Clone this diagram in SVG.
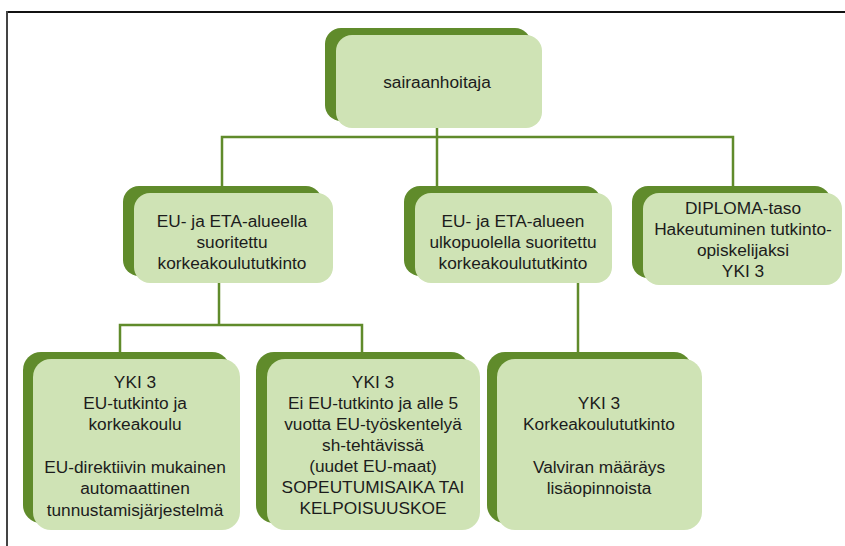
<svg xmlns="http://www.w3.org/2000/svg" width="845" height="546" viewBox="0 0 845 546">
  <style>
    .back { fill: #608b2b; }
    .front { fill: #cfe3b5; }
    .lbl { font-family: "Liberation Sans", Arial, sans-serif; font-size: 17.3px; fill: #1c1c1c; text-anchor: middle; }
    .wire { stroke: #608b2b; stroke-width: 2.5; fill: none; }
  </style>

  <rect width="845" height="546" fill="#ffffff"/>
  <!-- page frame -->
  <line x1="7" y1="12" x2="845" y2="12" stroke="#111" stroke-width="2"/>
  <line x1="7" y1="11" x2="7" y2="546" stroke="#444" stroke-width="2"/>

  <g id="connectors">
    <polyline class="wire" points="437,128 437,186"/>
    <polyline class="wire" points="222,186 222,137 733,137 733,186"/>
    <polyline class="wire" points="219,283 219,325"/>
    <polyline class="wire" points="120,352 120,325 362,325 362,352"/>
    <polyline class="wire" points="578,283 578,352"/>
  </g>

  <g id="root">
    <rect class="back" x="325" y="28" width="206" height="93" rx="16"/>
    <rect class="front" x="336" y="35" width="206" height="93" rx="16"/>
    <text class="lbl" x="437" y="88">sairaanhoitaja</text>
  </g>

  <g id="eu-eta">
    <rect class="back" x="123" y="186" width="199" height="90" rx="16"/>
    <rect class="front" x="134" y="193" width="199" height="90" rx="16"/>
    <text class="lbl" x="232" y="227">EU- ja ETA-alueella</text>
    <text class="lbl" x="232" y="248">suoritettu</text>
    <text class="lbl" x="232" y="269">korkeakoulututkinto</text>
  </g>

  <g id="outside-eu-eta">
    <rect class="back" x="404" y="186" width="197" height="90" rx="16"/>
    <rect class="front" x="415" y="193" width="197" height="90" rx="16"/>
    <text class="lbl" x="513" y="227">EU- ja ETA-alueen</text>
    <text class="lbl" x="513" y="248">ulkopuolella suoritettu</text>
    <text class="lbl" x="513" y="269">korkeakoulututkinto</text>
  </g>

  <g id="diploma">
    <rect class="back" x="632" y="186" width="199" height="92" rx="16"/>
    <rect class="front" x="643" y="193" width="199" height="92" rx="16"/>
    <text class="lbl" x="743" y="214">DIPLOMA-taso</text>
    <text class="lbl" x="743" y="235">Hakeutuminen tutkinto-</text>
    <text class="lbl" x="743" y="256">opiskelijaksi</text>
    <text class="lbl" x="743" y="277">YKI 3</text>
  </g>

  <g id="eu-degree">
    <rect class="back" x="23" y="352" width="207" height="171" rx="18"/>
    <rect class="front" x="33" y="359" width="207" height="171" rx="18"/>
    <text class="lbl" x="135" y="388">YKI 3</text>
    <text class="lbl" x="135" y="409">EU-tutkinto ja</text>
    <text class="lbl" x="135" y="430">korkeakoulu</text>
    <text class="lbl" x="135" y="473">EU-direktiivin mukainen</text>
    <text class="lbl" x="135" y="494">automaattinen</text>
    <text class="lbl" x="135" y="516">tunnustamisjärjestelmä</text>
  </g>

  <g id="non-eu-degree">
    <rect class="back" x="256" y="352" width="213" height="171" rx="18"/>
    <rect class="front" x="267" y="359" width="213" height="171" rx="18"/>
    <text class="lbl" x="373" y="388">YKI 3</text>
    <text class="lbl" x="373" y="409">Ei EU-tutkinto ja alle 5</text>
    <text class="lbl" x="373" y="430">vuotta EU-työskentelyä</text>
    <text class="lbl" x="373" y="451">sh-tehtävissä</text>
    <text class="lbl" x="373" y="472">(uudet EU-maat)</text>
    <text class="lbl" x="373" y="493">SOPEUTUMISAIKA TAI</text>
    <text class="lbl" x="373" y="514">KELPOISUUSKOE</text>
  </g>

  <g id="outside-degree">
    <rect class="back" x="487" y="352" width="205" height="171" rx="18"/>
    <rect class="front" x="497" y="359" width="205" height="171" rx="18"/>
    <text class="lbl" x="599" y="409">YKI 3</text>
    <text class="lbl" x="599" y="430">Korkeakoulututkinto</text>
    <text class="lbl" x="599" y="473">Valviran määräys</text>
    <text class="lbl" x="599" y="494">lisäopinnoista</text>
  </g>
</svg>
